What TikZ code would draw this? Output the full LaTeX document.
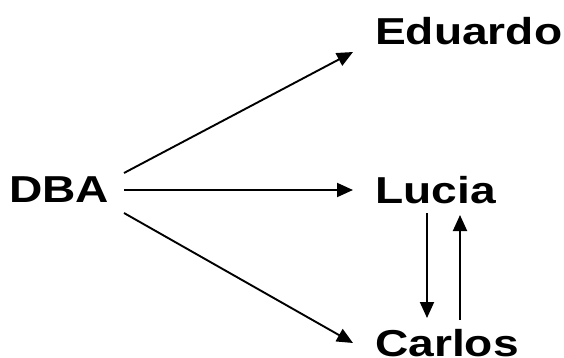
\documentclass[tikz,border=0pt]{standalone}
\usepackage{fontspec}
\setmainfont{Liberation Sans}
\usetikzlibrary{arrows.meta,calc}
\begin{document}
\begin{tikzpicture}[x=1pt,y=-1pt,
  person/.style={anchor=base west,inner sep=0pt,font=\fontsize{37.5}{40}\selectfont\bfseries},
  conn/.style={line width=1.9pt,-{Triangle[length=16pt,width=14pt]}}]
\useasboundingbox (0,0) rectangle (564,358);
\node[person] (dba) at (9,202) {\scalebox{1.23}[1]{DBA}};
\node[person] (edu) at (375,45) {\scalebox{1.23}[1]{Eduardo}};
\node[person] (luc) at (375,203) {\scalebox{1.23}[1]{Lucia}};
\node[person] (car) at (375,356) {\scalebox{1.23}[1]{Carlos}};
\draw[conn] ($(dba.base west)+(115,-29)$) -- ($(edu.base west)+(-22,7)$);
\draw[conn] ($(dba.base west)+(115,-12)$) -- ($(luc.base west)+(-22,-13)$);
\draw[conn] ($(dba.base west)+(115,11)$) -- ($(car.base west)+(-22,-13)$);
\draw[conn] ($(luc.base west)+(52,10)$) -- ($(car.base west)+(52,-38)$);
\draw[conn] ($(car.base west)+(85,-36)$) -- ($(luc.base west)+(85,12)$);
\end{tikzpicture}
\end{document}
